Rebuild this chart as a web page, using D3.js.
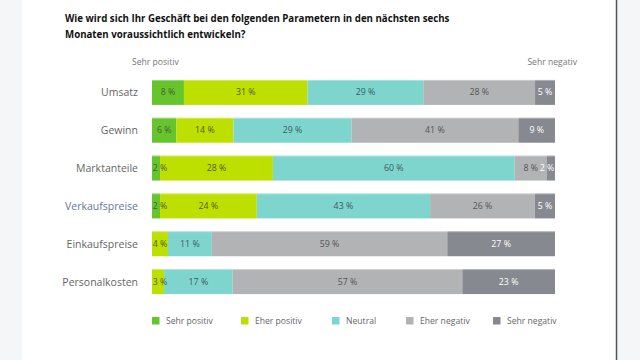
<html>
<head>
<meta charset="utf-8">
<style>
    body {
        margin: 0;
        background: #f5f6f8;
        font-family: 'Open Sans', 'Noto Sans', sans-serif;
    }
    svg {
        display: block;
    }
    .title {
        font-weight: bold;
        font-size: 9.7px;
        fill: #111;
    }
    .cat {
        font-size: 10.5px;
        fill: #666;
    }
    .pct {
        font-size: 8.8px;
    }
    .legend text {
        font-size: 8.6px;
        fill: #666;
    }
    .end-label {
        font-size: 8.6px;
        fill: #777;
    }
</style>
</head>
<body>
<svg width="640" height="360"></svg>

<script src="https://d3js.org/d3.v7.min.js"></script>
<script>

    // data
    let categories = ["Umsatz", "Gewinn", "Marktanteile", "Verkaufspreise", "Einkaufspreise", "Personalkosten"]
    let answers = ["Sehr positiv", "Eher positiv", "Neutral", "Eher negativ", "Sehr negativ"]
    let sehrPositiv = [8, 6, 2, 2, 0, 0]
    let eherPositiv = [31, 14, 28, 24, 4, 3]
    let neutral = [29, 29, 60, 43, 11, 17]
    let eherNegativ = [28, 41, 8, 26, 59, 57]
    let sehrNegativ = [5, 9, 2, 5, 27, 23]
    let titleLines = ["Wie wird sich Ihr Geschäft bei den folgenden Parametern in den nächsten sechs",
                      "Monaten voraussichtlich entwickeln?"]

    let series = [sehrPositiv, eherPositiv, neutral, eherNegativ, sehrNegativ]
    let colors = ["#66c52d", "#bee000", "#7dd5ce", "#b1b3b4", "#878990"]
    let labelColors = ["#4d5a3a", "#4f5a20", "#3f5a60", "#555", "#fff"]

    let width = 640
    let height = 360
    let svg = d3.select("svg")

    // panel
    svg.append("rect")
        .attr("x", 22).attr("y", 0)
        .attr("width", 594).attr("height", height)
        .style("fill", "#fff")
    svg.append("line")
        .attr("x1", 616.5).attr("x2", 616.5)
        .attr("y1", 0).attr("y2", height)
        .style("stroke", "#555")
        .style("stroke-width", 1.5)

    svg.selectAll(".title")
        .data(titleLines)
        .join("text")
        .attr("class", "title")
        .attr("x", 65)
        .attr("y", (d, i) => 22 + i * 16)
        .text(d => d)

    let x = d3.scaleLinear()
        .domain([0, 1])
        .range([152, 555])

    let y = d3.scaleBand()
        .domain(categories)
        .range([73.5, 300.5])
        .paddingInner(0.34)
        .paddingOuter(0.17)

    let color = d3.scaleOrdinal().domain(answers).range(colors)

    // build stacked, normalised rows
    let segs = []
    categories.forEach((c, i) => {
        let total = d3.sum(series, s => s[i])
        let acc = 0
        series.forEach((s, j) => {
            let v = s[i]
            segs.push({cat: c, answer: answers[j], idx: j, value: v, x0: acc / total, x1: (acc + v) / total})
            acc += v
        })
    })

    svg.append("text").attr("class", "end-label")
        .attr("x", 132).attr("y", 65).text("Sehr positiv")
    svg.append("text").attr("class", "end-label")
        .attr("x", 577).attr("y", 65).attr("text-anchor", "end").text("Sehr negativ")

    svg.append("g")
        .selectAll("text")
        .data(categories)
        .join("text")
        .attr("class", "cat")
        .attr("x", 138)
        .attr("y", d => y(d) + y.bandwidth() / 2 + 4)
        .attr("text-anchor", "end")
        .style("fill", d => d == "Verkaufspreise" ? "#66769a" : null)
        .text(d => d)

    svg.append("g")
        .selectAll("rect")
        .data(segs.filter(d => d.value > 0))
        .join("rect")
        .attr("x", d => x(d.x0))
        .attr("width", d => x(d.x1) - x(d.x0))
        .attr("y", d => y(d.cat))
        .attr("height", y.bandwidth())
        .style("fill", d => color(d.answer))

    // thin light top edge on each bar
    svg.append("g")
        .selectAll("line")
        .data(categories)
        .join("line")
        .attr("x1", x(0)).attr("x2", x(1))
        .attr("y1", d => y(d) + 0.5).attr("y2", d => y(d) + 0.5)
        .style("stroke", "#fff")
        .style("stroke-opacity", 0.35)

    svg.append("g")
        .selectAll("text")
        .data(segs.filter(d => d.value > 0))
        .join("text")
        .attr("class", "pct")
        .attr("x", d => {
            let c = (x(d.x0) + x(d.x1)) / 2
            c = Math.max(c, x(0) + 8)
            c = Math.min(c, x(1) - 8)
            return c
        })
        .attr("y", d => y(d.cat) + y.bandwidth() / 2 + 3)
        .attr("text-anchor", "middle")
        .style("fill", d => labelColors[d.idx])
        .text(d => d.value + " %")

    // legend
    let legendX = [152, 241, 332, 406, 493]
    let legend = svg.append("g")
        .attr("class", "legend")
        .selectAll("g")
        .data(answers)
        .join("g")
        .attr("transform", (d, i) => `translate(${legendX[i]}, 317)`)

    legend.append("rect")
        .attr("width", 7.5).attr("height", 7.5)
        .style("fill", d => color(d))
    legend.append("text")
        .attr("x", 14).attr("y", 7)
        .text(d => d)

</script>
</body>
</html>
